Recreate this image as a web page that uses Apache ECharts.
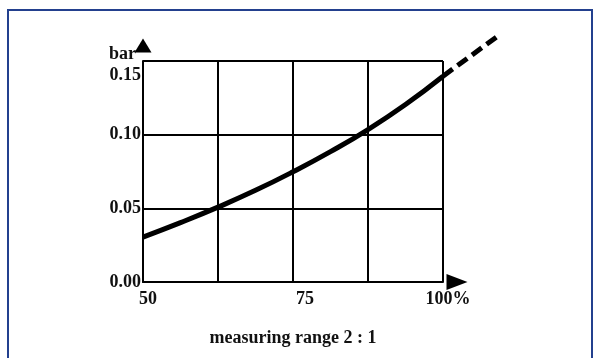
<!DOCTYPE html>
<html>
<head>
<meta charset="utf-8">
<script src="https://cdn.jsdelivr.net/npm/echarts@6/dist/echarts.min.js"></script>
<style>
  html, body { margin: 0; padding: 0; background: #ffffff; }
  #wrap { position: relative; width: 601px; height: 358px; overflow: hidden; background: #fff; }
  #frame { position: absolute; left: 7px; top: 9px; width: 586px; height: 400px; border: 2px solid #23408e; box-sizing: border-box; }
  #chart { position: absolute; left: 0; top: 0; width: 601px; height: 358px; }
</style>
</head>
<body>
<div id="wrap">
  <div id="frame"></div>
  <div id="chart"></div>
</div>
<script>
// Data
const rangePercent = [50, 56.25, 62.5, 68.75, 75, 81.25, 87.5, 93.75, 100];
const pressureBar  = [0.0305, 0.0403, 0.0508, 0.0622, 0.0748, 0.0885, 0.1035, 0.1205, 0.1397];
const extrapX = [100, 109.5];
const extrapY = [0.1397, 0.168];
const xTickLabels = { 50: '50', 75: '{m|75}', 100: '100%' };
const yTickLabels = { 0: '0.00', 0.05: '0.05', 0.1: '0.10', 0.15: '{low|0.15}' };

const solidData = rangePercent.map((x, i) => [x, pressureBar[i]]);
const dashData = extrapX.map((x, i) => [x, extrapY[i]]);

const FONT = '"Liberation Serif", "DejaVu Serif", serif';
const FS = 18;
const txt = { fontFamily: FONT, fontSize: FS, fontWeight: 'bold', color: '#111' };

// Main grid: 143..443 px wide (50..100), 61..282 px tall (0..0.15)
const G = { left: 143, right: 158, top: 61, bottom: 76 };
const pxPerX = (601 - G.left - G.right) / 50;
const pxPerY = (358 - G.top - G.bottom) / 0.15;
// Extended (invisible) grid with identical scale, for the dashed extrapolation outside the frame
const X2MAX = 112.5, Y2MAX = 0.175;
const G2 = {
  left: G.left, bottom: G.bottom,
  width: (X2MAX - 50) * pxPerX,
  height: Y2MAX * pxPerY
};

const chart = echarts.init(document.getElementById('chart'), null, { renderer: 'canvas' });
chart.setOption({
  animation: false,
  backgroundColor: 'transparent',
  grid: [G, G2],
  xAxis: [{
    type: 'value', min: 50, max: 100, interval: 12.5, gridIndex: 0,
    name: 'measuring range 2 : 1', nameLocation: 'middle', nameGap: 47,
    nameTextStyle: txt,
    axisLine: { show: true, onZero: false, lineStyle: { color: '#000', width: 2 },
      symbol: ['none', 'triangle'], symbolSize: [16, 21], symbolOffset: [0, 14] },
    axisTick: { show: false },
    splitLine: { show: true, lineStyle: { color: '#000', width: 2 } },
    axisLabel: Object.assign({}, txt, {
      margin: 8,
      padding: [0, 0, 0, 10],
      showMinLabel: true, showMaxLabel: true,
      formatter: v => (xTickLabels[v] !== undefined ? xTickLabels[v] : ''),
      rich: { m: Object.assign({}, txt, { padding: [0, 0, 0, 14] }) }
    })
  }, {
    type: 'value', min: 50, max: X2MAX, gridIndex: 1, show: false
  }],
  yAxis: [{
    type: 'value', min: 0, max: 0.15, interval: 0.05, gridIndex: 0,
    name: 'bar', nameLocation: 'end', nameGap: -2,
    nameTextStyle: Object.assign({}, txt, { align: 'right', verticalAlign: 'bottom', padding: [0, 7, 0, 0] }),
    axisLine: { show: true, onZero: false, lineStyle: { color: '#000', width: 2 },
      symbol: ['none', 'triangle'], symbolSize: [17, 14], symbolOffset: [0, 15.5] },
    axisTick: { show: false },
    splitLine: { show: true, lineStyle: { color: '#000', width: 2 } },
    axisLabel: Object.assign({}, txt, {
      margin: 2,
      showMinLabel: true, showMaxLabel: true,
      formatter: v => {
        const key = Math.round(v * 100) / 100;
        return yTickLabels[key] !== undefined ? yTickLabels[key] : '';
      },
      rich: { low: Object.assign({}, txt, { padding: [29, 0, 0, 0] }) }
    })
  }, {
    type: 'value', min: 0, max: Y2MAX, gridIndex: 1, show: false
  }],
  series: [
    {
      type: 'line', xAxisIndex: 0, yAxisIndex: 0, data: solidData, smooth: true, symbol: 'none',
      lineStyle: { color: '#000', width: 5 }, z: 3
    },
    {
      type: 'line', xAxisIndex: 1, yAxisIndex: 1, data: dashData, symbol: 'none',
      lineStyle: { color: '#000', width: 5, type: [12, 6] }, z: 3
    }
  ]
});
</script>
</body>
</html>
